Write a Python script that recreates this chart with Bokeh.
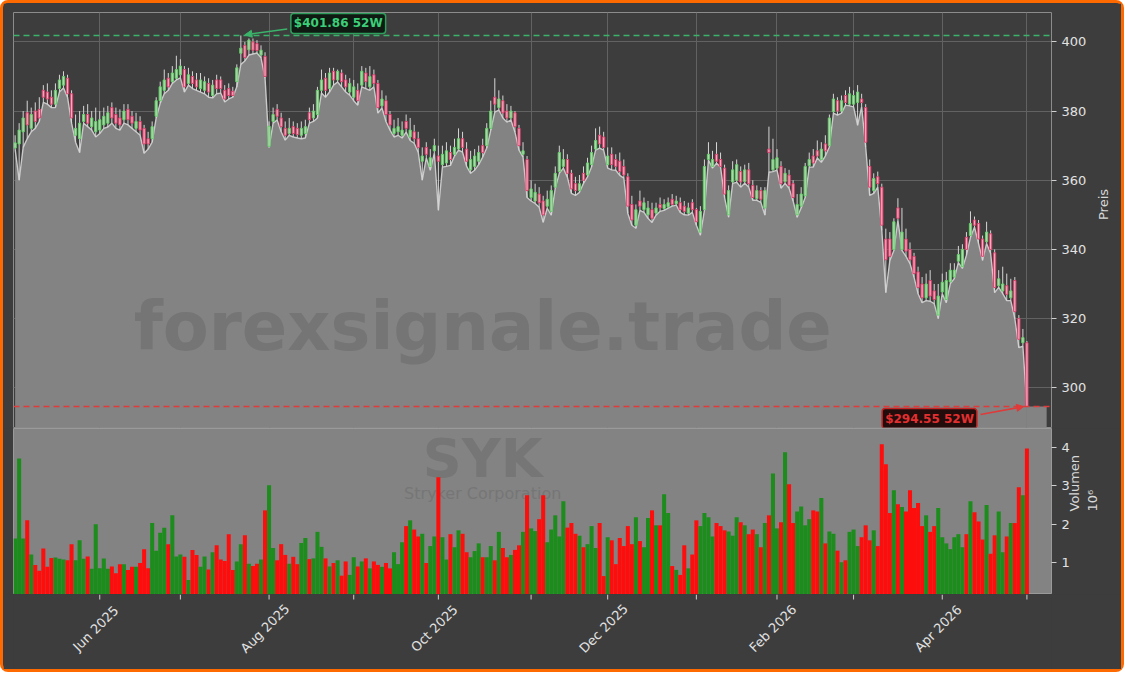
import math
import pandas as pd
from bokeh.plotting import figure
from bokeh.layouts import column
from bokeh.models import (ColumnDataSource, Range1d, FixedTicker, SingleIntervalTicker,
                          Span, Label, Arrow, NormalHead)
from bokeh.core.properties import value
from bokeh.embed import file_html
from bokeh.resources import INLINE

# ---------------- data ----------------
holidays = ["2025-05-26", "2025-06-19", "2025-07-04", "2025-09-01", "2025-11-27",
            "2025-12-25", "2026-01-01", "2026-01-19", "2026-02-16", "2026-04-03"]
dates = pd.bdate_range("2025-05-01", "2026-05-01", freq="C", holidays=holidays)

opens = [
    369.3, 370.5, 374, 379.5, 375, 380, 380.5, 386, 385.5, 384,
    382, 386.5, 387.5, 389.5, 385, 373, 372, 377, 379, 375.5,
    374, 374.5, 376, 376.5, 381, 379, 378, 377.5, 380.5, 378.5,
    375, 377, 375, 372, 372, 378.5, 383, 386, 389.5, 388.5,
    389.5, 390.5, 392, 388, 390, 389, 386.5, 386, 388, 384.5,
    389, 389, 386, 386.5, 385.7, 388.5, 396.7, 399, 397.7, 400,
    399.5, 396.2, 395.8, 369.8, 377, 380.5, 378, 375, 373.5, 375.5,
    375, 373, 373.5, 379.5, 378, 379, 386, 389.5, 386.5, 391.5,
    389, 391, 389, 385.5, 384, 386, 387.5, 391, 387, 390.5,
    388, 381.5, 383, 379, 373.5, 374, 373, 377, 372.5, 374,
    372, 365.5, 369.5, 364, 368.5, 367, 364.5, 365, 368, 367.5,
    369, 372, 369, 363, 364, 365.5, 370, 370, 375, 384,
    381, 383, 380, 378, 379.5, 375, 367.5, 366, 355, 354,
    356, 354, 352.5, 351, 358, 362.5, 364, 366, 362, 359,
    357, 362, 361.5, 364.5, 369, 373, 372.5, 364.5, 367.5, 366,
    365.5, 364, 361, 353, 347, 354, 351.5, 350, 351.5, 350.5,
    353, 351.8, 352.3, 354.5, 353.2, 353.5, 352.5, 350.5, 353.5, 351.5,
    345, 351.5, 366, 364, 367.5, 366, 363.5, 350, 359.5, 360,
    362.5, 359.6, 363, 358.5, 354.7, 357, 352, 369, 363, 363.5,
    364, 359.6, 361.5, 359, 350, 352.5, 355.5, 364.2, 367, 368.5,
    366, 370.5, 370, 379.8, 383, 380, 384.5, 382, 382, 382.5,
    383.5, 381, 364, 357, 361, 358, 343, 343, 340, 352,
    340, 343, 340, 338, 333.5, 330, 326, 331, 328, 321,
    327.7, 325.5, 330.6, 332, 336.6, 335, 343.5, 344, 348.5, 347.5,
    343, 342.2, 344.5, 339, 329.5, 328, 329.5, 326, 331, 320,
    313, 313]

highs = [
    373, 376.5, 380, 383, 381, 382.5, 384, 387.5, 388, 386,
    388, 390.5, 391.5, 390.5, 386, 379, 380, 381.5, 382, 380,
    381, 380, 381, 381.5, 382.5, 381, 380.5, 382, 382, 380,
    379.5, 378.5, 376, 374, 377, 384, 388.5, 392, 391, 393,
    396, 395, 393, 392.5, 391.5, 391, 391, 390, 389.5, 389,
    390.5, 390, 387.5, 388, 387, 393.5, 401.86, 400, 401, 401,
    400.5, 399, 397, 377, 381, 382, 379.5, 377, 378, 377,
    376.5, 377, 377.5, 381, 382, 387, 392, 391, 392.5, 392.5,
    392, 392, 390.5, 389.5, 389, 388, 393, 392.5, 393, 392,
    389, 386, 384.5, 380, 377.5, 378, 377, 379, 378, 376,
    374, 369.5, 371, 369, 372, 370, 370, 371, 370, 372,
    375, 374, 371, 368.5, 369, 370, 372, 376.5, 383, 389.5,
    386, 384.5, 382, 381.5, 380, 376, 371, 367, 360, 359,
    358, 355.5, 357, 358.5, 364, 370, 369, 367.5, 363, 361,
    361.5, 364, 366.5, 370, 375, 375.5, 374, 369.5, 369.5, 367.5,
    368, 366, 362, 355.5, 353, 357, 355, 354, 353.5, 353.5,
    355, 354.5, 355, 356, 355.5, 355, 354, 353.5, 354.5, 352,
    352.5, 366, 371, 368.5, 371, 368, 364.5, 358.5, 365.5, 366,
    364, 364.5, 365, 360, 358.5, 358, 358, 375.5, 372, 369,
    365.5, 363.5, 363, 360, 356, 358, 365, 368, 369, 371.5,
    371, 373, 379, 385, 384, 384.5, 386, 387, 386, 387.5,
    385, 382, 366, 362, 362.5, 359, 346, 345, 349, 354.8,
    352, 346, 342, 339, 335, 332, 333, 334, 330, 330,
    333, 333.5, 336, 336, 341, 341.5, 345, 351, 349.5, 348.5,
    344, 348, 345.5, 340, 334, 335, 333, 331.5, 332, 321,
    317, 313.5]

lows = [
    369, 360, 369.5, 372, 374, 375, 377, 382.5, 382, 381,
    381, 385.5, 386.7, 384, 376.5, 371, 368, 376.5, 375.5, 374.5,
    372.5, 373.5, 375, 375.4, 376.5, 375, 374.5, 376.5, 376, 375,
    374, 373, 367.8, 369, 371, 378, 382.3, 385, 386, 388,
    389, 389.6, 385.5, 387.5, 386.5, 386, 385.5, 385, 384, 383.8,
    385, 385.2, 382.6, 383.5, 384, 387, 393.5, 394.5, 396.2, 396.5,
    396.8, 395.4, 389.5, 369.5, 376.5, 377.4, 374, 371.6, 373, 372.5,
    372.2, 372, 372.2, 376.5, 377, 378, 385.2, 384, 385.5, 387.5,
    388.4, 387, 385.5, 384.6, 383, 381.7, 387, 386.5, 386, 387,
    379.4, 380.9, 377, 374.5, 372.5, 373, 372.2, 373.9, 371.5, 370.7,
    368.1, 360, 366.4, 362.9, 367.8, 351.3, 363.8, 364, 364.3, 367,
    368.7, 368.1, 364, 362, 362.9, 364.5, 366.7, 369.3, 374.5, 379.7,
    380.3, 378, 376.8, 377.4, 373.9, 368.7, 366.7, 355, 354, 353.3,
    352.2, 347.8, 351.9, 349.9, 357.7, 362, 363.5, 360.9, 356.2, 355.6,
    356.5, 359.1, 361, 363.8, 368.7, 369.3, 368.7, 363.5, 363, 362.9,
    361.4, 360.6, 350.4, 347, 346.1, 351.3, 350.7, 349, 347.8, 349.9,
    351, 351.3, 351.9, 352.5, 352.8, 350.7, 350, 349.9, 350.7, 347,
    344.1, 351.3, 365.8, 363.5, 364.9, 363.8, 355, 349.3, 359.1, 359.4,
    358, 359.1, 358, 354.2, 354.2, 353.6, 349.9, 362.3, 362.5, 362.9,
    357.7, 359.1, 357.7, 354, 349.3, 352, 355, 363.8, 363.8, 366.4,
    365.2, 367, 369.6, 379.4, 378.8, 379.4, 381.7, 381.5, 381.2, 375.9,
    381.2, 369.6, 355.6, 356.2, 358, 345.5, 327.5, 336.8, 339.7, 348.4,
    339.7, 338, 335.9, 331.9, 327.2, 324.6, 325.2, 325, 324.3, 320,
    327.2, 324.6, 330.1, 331.6, 336.2, 334.5, 338.3, 343.5, 346.4, 341.7,
    336.8, 341.7, 338.8, 327.5, 329, 327.2, 325.2, 325.2, 320, 311.6,
    312, 294.55]

closes = [
    370.8, 374.5, 378, 376, 379, 377, 378, 384, 383.5, 382,
    386, 389, 390, 385, 378, 375, 376.5, 379, 376.5, 378,
    377, 377.5, 378.5, 379.5, 378, 376.5, 376, 380, 377.5, 376.5,
    377, 374.5, 370.5, 370.5, 375.5, 383, 387, 389, 387, 391,
    392, 393, 387, 390.5, 388, 387, 389, 388.5, 385.5, 387.5,
    386.5, 386.5, 383.5, 384.5, 384.5, 392.5, 398.2, 395.5, 400.5, 397.6,
    397.5, 397.6, 390, 375.6, 379, 378.5, 375.5, 373, 375, 373.5,
    373.2, 375, 375.5, 377.5, 380, 386, 389, 386, 391, 389,
    391.5, 388.5, 387, 388, 387, 383, 391.5, 388.5, 390, 388,
    381, 383.5, 379, 376, 375, 375.5, 374.5, 375, 374.5, 372,
    369.5, 367, 367.5, 366.5, 370, 365.5, 367.5, 368.5, 366, 369.5,
    372, 369.5, 365.5, 366, 367, 368, 368, 375, 380, 382,
    383.5, 379.5, 378, 380, 375.5, 370, 368.5, 357, 357.5, 356.5,
    353.5, 350, 354.5, 357, 362, 368, 366, 362, 357.5, 357,
    359, 360, 365, 368, 371.5, 370.5, 369.5, 367, 364.5, 364,
    362.5, 361.5, 352.5, 348.5, 351.5, 352.5, 353.5, 352, 349, 352,
    352, 353, 353.5, 353, 354, 351.5, 351, 352, 351.5, 348,
    351, 364, 367.5, 366, 365.5, 364, 356, 357, 363, 364.5,
    359.5, 363, 359, 355, 357, 354.5, 357, 368, 366, 366.5,
    359, 362, 358.5, 355, 353, 356, 364, 366, 365, 367,
    369, 368.5, 378, 383.5, 380, 383, 382.5, 385, 384.5, 385.5,
    382.5, 371, 358, 360.5, 359, 347, 337, 338, 348, 349,
    345, 339.5, 337, 333, 329, 326, 330, 326.5, 325.5, 326.5,
    330.5, 331, 334, 334, 338.5, 340, 340, 347.5, 347, 343,
    338, 345, 340, 329, 331.5, 330, 327, 328, 322, 314,
    314.5, 294.55]

volumes = [  # millions
    1.63, 3.71, 1.63, 2.10, 1.21, 0.94, 0.79, 1.37, 0.89, 1.12,
    1.13, 1.10, 1.08, 1.06, 1.48, 1.06, 1.58, 1.10, 1.16, 0.84,
    2.00, 0.85, 1.11, 0.84, 0.90, 0.72, 0.96, 0.96, 0.81, 0.89,
    0.89, 0.99, 1.35, 0.85, 2.03, 1.31, 1.78, 1.91, 1.48, 2.23,
    1.16, 1.21, 1.15, 0.55, 1.33, 1.20, 0.89, 1.16, 0.82, 1.27,
    1.45, 1.08, 1.04, 1.74, 0.81, 1.03, 1.48, 1.71, 0.97, 0.91,
    0.97, 1.08, 2.36, 3.01, 1.38, 1.06, 1.48, 1.20, 0.97, 1.15,
    0.96, 1.51, 1.64, 1.09, 1.11, 1.80, 1.41, 1.11, 0.90, 0.99,
    1.06, 0.66, 1.03, 0.68, 1.14, 0.90, 1.03, 1.11, 0.85, 1.03,
    0.94, 0.89, 0.99, 0.85, 1.27, 0.96, 1.53, 1.95, 2.10, 1.86,
    1.68, 1.75, 0.99, 1.43, 1.68, 3.22, 1.66, 1.08, 1.74, 1.40,
    1.84, 1.75, 1.27, 1.14, 1.30, 1.50, 1.14, 1.14, 1.43, 1.06,
    1.80, 1.38, 1.14, 1.20, 1.33, 1.45, 1.80, 2.75, 1.89, 1.82,
    2.13, 2.75, 1.53, 1.86, 2.23, 1.68, 2.60, 1.91, 2.03, 1.75,
    1.70, 1.40, 1.48, 1.95, 1.38, 2.03, 0.65, 1.66, 1.58, 0.96,
    1.64, 1.43, 1.95, 1.48, 2.18, 1.56, 1.40, 2.16, 2.36, 1.97,
    1.97, 2.78, 2.29, 0.91, 0.81, 0.68, 1.45, 0.85, 1.21, 2.10,
    1.95, 2.29, 2.18, 1.68, 2.03, 1.95, 1.84, 1.81, 1.70, 2.18,
    2.05, 1.97, 1.74, 1.86, 1.74, 1.40, 2.03, 2.23, 3.32, 1.89,
    2.05, 3.87, 3.04, 2.03, 2.33, 2.46, 1.97, 2.13, 2.36, 2.33,
    2.68, 1.50, 1.81, 1.75, 1.31, 1.01, 1.06, 1.80, 1.86, 1.43,
    1.66, 1.97, 1.58, 1.84, 1.43, 4.08, 3.56, 2.29, 2.88, 2.52,
    2.45, 2.33, 2.88, 2.42, 2.55, 1.95, 2.23, 1.80, 1.95, 2.42,
    1.66, 1.50, 1.35, 1.66, 1.74, 1.40, 1.74, 2.60, 2.31, 2.07,
    1.60, 2.50, 1.23, 1.71, 2.33, 1.27, 1.68, 2.03, 2.03, 2.96,
    2.75, 3.97]

ticker_symbol = "SYK"
company = "Stryker Corporation"
watermark = "forexsignale.trade"

# ---------------- derived ----------------
n = len(closes)
idx = list(range(n))
up = [c >= o for o, c in zip(opens, closes)]

month_idx, month_lab = [], {}
for k in range(1, n):
    if dates[k].month != dates[k - 1].month:
        month_idx.append(k)
        month_lab[k] = dates[k].strftime("%b %Y") if dates[k].month % 2 == 0 else ""
lab_idx = [k for k in month_idx if month_lab[k]]
lab_txt = [month_lab[k] for k in lab_idx]

FONT = "DejaVu Sans"
BG = "#3d3d3d"
AREA = "#838383"
GREEN_L = "#3bb36a"
RED_L = "#e03a3a"
TXT = "#e2e2e2"

src = ColumnDataSource(dict(
    i=idx, o=opens, h=highs, l=lows, c=closes, v=volumes,
    top=[max(o, c) for o, c in zip(opens, closes)],
    bot=[min(o, c) for o, c in zip(opens, closes)],
    fill=["#b4d4b4" if u else "#f2b0c0" for u in up],
    edge=["#66d06a" if u else "#e2406f" for u in up],
    vcol=["#1c8c1c" if u else "#fe0d0d" for u in up],
))

x_range = Range1d(-0.4, n + 5.1)
VOL_LO, VOL_HI = 0.17, 4.49

W = 1118
common = dict(x_range=x_range, output_backend="svg", toolbar_location=None,
              min_border_left=10, min_border_right=68, border_fill_color=BG)

# ---------------- price panel ----------------
p1 = figure(width=W, height=425, y_range=Range1d(288.5, 408.5), y_axis_location="right",
            x_axis_location=None, min_border_top=9, min_border_bottom=1,
            background_fill_color=BG, outline_line_color="#8c8c8c", **common)
p1.xgrid.ticker = FixedTicker(ticks=month_idx)
p1.ygrid.ticker = SingleIntervalTicker(interval=20)
p1.grid.grid_line_color = "#626262"
p1.grid.grid_line_width = 1

p1.varea(x="i", y1=0, y2="l", source=src, fill_color=AREA)
p1.quad(left=idx[-1], right=idx[-1] + 4.9, bottom=0, top=lows[-1], fill_color=AREA,
        line_color=None)
p1.line(x="i", y="l", source=src, line_color="#c9c9c9", line_width=1.4)

p1.text(x=[116], y=[317.5], text=[watermark], text_font=value(FONT),
        text_font_style="bold", text_font_size="67px", text_color="#757575",
        text_align="center", text_baseline="middle")

p1.segment(x0="i", y0="l", x1="i", y1="h", source=src, line_color="#d6d6d6", line_width=1)
p1.vbar(x="i", width=0.55, top="top", bottom="bot", source=src, fill_color="fill",
        line_color="edge", line_width=1)

hi52 = max(highs)
i_hi = highs.index(hi52)
lo52 = min(lows)
i_lo = lows.index(lo52)

p1.add_layout(Span(location=hi52, dimension="width", line_color=GREEN_L,
                   line_dash="6 4", line_width=1.5))
p1.add_layout(Span(location=lo52, dimension="width", line_color=RED_L,
                   line_dash="6 4", line_width=1.5))

p1.add_layout(Arrow(end=NormalHead(size=7, fill_color=GREEN_L, line_color=GREEN_L),
                    x_start=i_hi + 11.5, y_start=hi52 + 1.9, x_end=i_hi + 1.0, y_end=hi52 + 0.2,
                    line_color=GREEN_L, line_width=1.5))
p1.add_layout(Arrow(end=NormalHead(size=7, fill_color=RED_L, line_color=RED_L),
                    x_start=i_lo - 11.5, y_start=lo52 - 2.3, x_end=i_lo - 0.8, y_end=lo52,
                    line_color=RED_L, line_width=1.5))

p1.add_layout(Label(x=i_hi, y=hi52, x_offset=50, y_offset=12, text=f"${hi52:.2f} 52W",
                    text_font=FONT, text_font_style="bold", text_font_size="12px",
                    text_color="#3ccf78", text_align="left", text_baseline="middle",
                    background_fill_color="#0e1a12", border_line_color="#2f9e5c",
                    border_line_width=1.5, padding=3, border_radius=3))
p1.add_layout(Label(x=i_lo, y=lo52, x_offset=-50, y_offset=-12, text=f"${lo52:.2f} 52W",
                    text_font=FONT, text_font_style="bold", text_font_size="12px",
                    text_color="#e23030", text_align="right", text_baseline="middle",
                    background_fill_color="#220c0c", border_line_color="#c42525",
                    border_line_width=1.5, padding=3, border_radius=3))

ya = p1.yaxis[0]
ya.ticker = SingleIntervalTicker(interval=20, num_minor_ticks=0)
ya.axis_label = "Preis"
ya.axis_label_standoff = 14

# ---------------- volume panel ----------------
p2 = figure(width=W, height=166, y_range=Range1d(VOL_LO, VOL_HI), y_axis_location="right",
            x_axis_location=None, min_border_top=0, min_border_bottom=0,
            background_fill_color=AREA, outline_line_color="#9a9a9a", **common)
p2.grid.visible = False

p2.text(x=[116], y=[3.70], text=[ticker_symbol], text_font=value(FONT),
        text_font_style="bold", text_font_size="54px", text_color="#767676",
        text_align="center", text_baseline="middle")
p2.text(x=[116], y=[2.81], text=[company], text_font=value(FONT),
        text_font_size="16px", text_color="#767676",
        text_align="center", text_baseline="middle")

p2.vbar(x="i", width=1.0, top="v", bottom=0, source=src, fill_color="vcol", line_color=None)

va = p2.yaxis[0]
va.ticker = SingleIntervalTicker(interval=1, num_minor_ticks=0)
va.axis_label = "Volumen\n10\u2076"
va.axis_label_standoff = 11

# ---------------- date strip (ticks + rotated month labels) ----------------
p3 = figure(width=W, height=75, y_range=Range1d(0, 75), x_axis_location=None,
            y_axis_location=None, min_border_top=0, min_border_bottom=0,
            background_fill_color=BG, outline_line_color=None, **common)
p3.grid.visible = False
p3.segment(x0=month_idx, y0=[75] * len(month_idx), x1=month_idx, y1=[70] * len(month_idx),
           line_color="#d0d0d0", line_width=1)
p3.text(x=lab_idx, y=[41] * len(lab_idx), text=lab_txt, angle=math.pi / 4, x_offset=-4,
        text_align="center", text_baseline="middle", text_font=value(FONT),
        text_font_size="13px", text_color=TXT)

for ax in (ya, va):
    ax.axis_line_color = None
    ax.major_tick_line_color = "#d0d0d0"
    ax.major_tick_out = 5
    ax.major_tick_in = 0
    ax.minor_tick_line_color = None
    ax.major_label_text_color = TXT
    ax.major_label_text_font = FONT
    ax.major_label_text_font_size = "13px"
    ax.axis_label_text_color = "#d8d8d8"
    ax.axis_label_text_font = FONT
    ax.axis_label_text_font_size = "13px"
    ax.axis_label_text_font_style = "normal"
    try:
        ax.axis_label_orientation = math.pi / 2
    except AttributeError:
        pass

layout = column(p1, p2, p3, spacing=0,
                styles={"border": "3px solid #ff6a00", "border-radius": "8px",
                        "background-color": BG})

open("out.html", "w").write(file_html(layout, INLINE))
